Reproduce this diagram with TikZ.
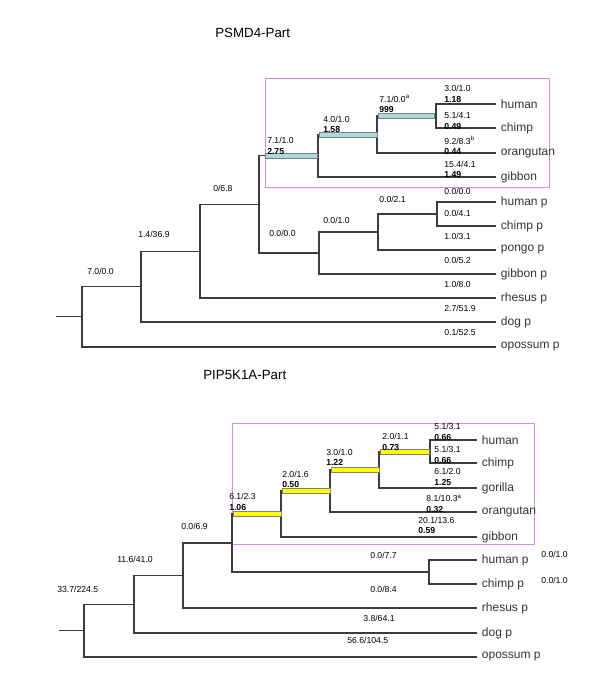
\documentclass[tikz,border=0pt]{standalone}
\usepackage{fontspec}
\setmainfont{Liberation Sans}
\usepackage{tikz}
\usetikzlibrary{calc}
\definecolor{boxpink}{RGB}{221,140,221}
\definecolor{barteal}{RGB}{172,218,218}
\definecolor{baryellow}{RGB}{255,255,0}
\definecolor{treegray}{RGB}{60,60,60}

\begin{document}
\begin{tikzpicture}[x=0.75pt, y=-0.75pt,
        branch/.style={draw=treegray, line width=0.9pt},
        leaf/.style={anchor=west, inner xsep=3.5pt, inner ysep=0pt, text=black!80, font=\fontsize{9}{10}\selectfont},
        lab/.style={anchor=west, inner sep=0pt, align=left, font=\fontsize{6.5}{7.9}\selectfont},
        title/.style={anchor=west, inner sep=0pt, font=\fontsize{10}{12}\selectfont},
        groupbox/.style={draw=boxpink, line width=0.6pt},
        tealbar/.style={draw=gray, line width=0.4pt, fill=barteal},
        yellowbar/.style={draw=gray, line width=0.4pt, fill=baryellow}
    ]
    \useasboundingbox (0,0) rectangle (600,685);

    % PSMD4
    \node[title] (t1) at (215,33) {PSMD4-Part};
    \draw[groupbox] (265,78) rectangle (549,187);

    \node[leaf] (h1)  at (496,104) {human};
    \node[leaf] (c1)  at (496,128) {chimp};
    \node[leaf] (o1)  at (496,153) {orangutan};
    \node[leaf] (g1)  at (496,177) {gibbon};
    \node[leaf] (hp1) at (496,202) {human p};
    \node[leaf] (cp1) at (496,226) {chimp p};
    \node[leaf] (pp1) at (496,250) {pongo p};
    \node[leaf] (gp1) at (496,274) {gibbon p};
    \node[leaf] (rp1) at (496,298) {rhesus p};
    \node[leaf] (dp1) at (496,322) {dog p};
    \node[leaf] (op1) at (496,347) {opossum p};

    \coordinate (n1) at (436,116);
    \coordinate (n2) at (377,134.5);
    \coordinate (n3) at (318,155.75);
    \coordinate (p1) at (437,214);
    \coordinate (p2) at (378,232);
    \coordinate (p3) at (319,253);
    \coordinate (nC) at (259,204.4);
    \coordinate (nB) at (200,251.2);
    \coordinate (nA) at (141,286.6);
    \coordinate (r1) at (82,316.8);
    \coordinate (s1) at (56,316.8);

    \draw[branch] (h1.west) -| (n1) |- (c1.west);
    \draw[branch] (n1) -| (n2) |- (o1.west);
    \draw[branch] (n2) -| (n3) |- (g1.west);
    \draw[branch] (hp1.west) -| (p1) |- (cp1.west);
    \draw[branch] (p1) -| (p2) |- (pp1.west);
    \draw[branch] (p2) -| (p3) |- (gp1.west);
    \draw[branch] (n3) -| (nC) |- (p3);
    \draw[branch] (nC) -| (nB) |- (rp1.west);
    \draw[branch] (nB) -| (nA) |- (dp1.west);
    \draw[branch] (nA) -| (r1) |- (op1.west);
    \draw[branch] (s1) -- (r1);

    \draw[tealbar] ($(n2 |- n1)+(1,-2.5)$) rectangle ($(n1)+(-2,2.5)$);
    \draw[tealbar] ($(n3 |- n2)+(1,-2.5)$) rectangle ($(n2)+(0,2.5)$);
    \draw[tealbar] ($(nC |- n3)+(6,-2.5)$) rectangle ($(n3)+(-1,2.5)$);

    \node[lab] (l1)  at (444,93.7)  {3.0/1.0\\\textbf{1.18}};
    \node[lab] (l2)  at (444,120.9) {5.1/4.1\\\textbf{0.49}};
    \node[lab] (l3)  at (444,145.5) {9.2/8.3\textsuperscript{b}\\\textbf{0.44}};
    \node[lab] (l4)  at (444,169.5) {15.4/4.1\\\textbf{1.49}};
    \node[lab] (l5)  at (379,104)   {7.1/0.0\textsuperscript{a}\\\textbf{999}};
    \node[lab] (l6)  at (323,124.3) {4.0/1.0\\\textbf{1.58}};
    \node[lab] (l7)  at (267,146)   {7.1/1.0\\\textbf{2.75}};
    \node[lab] (l8)  at (444,191) {0.0/0.0};
    \node[lab] (l9)  at (444,213) {0.0/4.1};
    \node[lab] (l10) at (444,236) {1.0/3.1};
    \node[lab] (l11) at (444,260) {0.0/5.2};
    \node[lab] (l12) at (444,284) {1.0/8.0};
    \node[lab] (l13) at (444,308) {2.7/51.9};
    \node[lab] (l14) at (444,332) {0.1/52.5};
    \node[lab] (l15) at (379,199) {0.0/2.1};
    \node[lab] (l16) at (323,220) {0.0/1.0};
    \node[lab] (l17) at (269,233) {0.0/0.0};
    \node[lab] (l18) at (213,188) {0/6.8};
    \node[lab] (l19) at (138,234) {1.4/36.9};
    \node[lab] (l20) at (87,271)  {7.0/0.0};

    % PIP5K1A
    \node[title] (t2) at (203,375) {PIP5K1A-Part};
    \draw[groupbox] (232,423) rectangle (534,544);

    \node[leaf] (h2)  at (477,440) {human};
    \node[leaf] (c2)  at (477,463) {chimp};
    \node[leaf] (go2) at (477,488) {gorilla};
    \node[leaf] (o2)  at (477,512) {orangutan};
    \node[leaf] (g2)  at (477,537) {gibbon};
    \node[leaf] (hp2) at (477,560) {human p};
    \node[leaf] (cp2) at (477,584) {chimp p};
    \node[leaf] (rp2) at (477,608) {rhesus p};
    \node[leaf] (dp2) at (477,633) {dog p};
    \node[leaf] (op2) at (477,657) {opossum p};

    \coordinate (mG) at (430,451.5);
    \coordinate (mF) at (379,469.75);
    \coordinate (mE) at (330,490.9);
    \coordinate (mD) at (281,513.9);
    \coordinate (mH) at (429,572);
    \coordinate (mC) at (232,543);
    \coordinate (mB) at (183,575.5);
    \coordinate (mA) at (134,604.25);
    \coordinate (r2) at (84,630.6);
    \coordinate (s2) at (59,630.6);

    \draw[branch] (h2.west) -| (mG) |- (c2.west);
    \draw[branch] (mG) -| (mF) |- (go2.west);
    \draw[branch] (mF) -| (mE) |- (o2.west);
    \draw[branch] (mE) -| (mD) |- (g2.west);
    \draw[branch] (hp2.west) -| (mH) |- (cp2.west);
    \draw[branch] (mD) -| (mC) |- (mH);
    \draw[branch] (mC) -| (mB) |- (rp2.west);
    \draw[branch] (mB) -| (mA) |- (dp2.west);
    \draw[branch] (mA) -| (r2) |- (op2.west);
    \draw[branch] (s2) -- (r2);

    \draw[yellowbar] ($(mF |- mG)+(1,-2.5)$) rectangle ($(mG)+(-1,2.5)$);
    \draw[yellowbar] ($(mE |- mF)+(1,-2.5)$) rectangle ($(mF)+(0,2.5)$);
    \draw[yellowbar] ($(mD |- mE)+(1,-2.5)$) rectangle ($(mE)+(0,2.5)$);
    \draw[yellowbar] ($(mC |- mD)+(1,-2.5)$) rectangle ($(mD)+(0,2.5)$);

    \node[lab] (k1)  at (434,432)   {5.1/3.1\\\textbf{0.66}};
    \node[lab] (k2)  at (434,455)   {5.1/3.1\\\textbf{0.66}};
    \node[lab] (k3)  at (434,477)   {6.1/2.0\\\textbf{1.25}};
    \node[lab] (k4)  at (426,503.5) {8.1/10.3\textsuperscript{a}\\\textbf{0.32}};
    \node[lab] (k5)  at (418,525.5) {20.1/13.6\\\textbf{0.59}};
    \node[lab] (k6)  at (382,442)   {2.0/1.1\\\textbf{0.73}};
    \node[lab] (k7)  at (326,457.5) {3.0/1.0\\\textbf{1.22}};
    \node[lab] (k8)  at (282,479.5) {2.0/1.6\\\textbf{0.50}};
    \node[lab] (k9)  at (229,502)   {6.1/2.3\\\textbf{1.06}};
    \node[lab] (k10) at (370,555) {0.0/7.7};
    \node[lab] (k11) at (370,589) {0.0/8.4};
    \node[lab] (k12) at (363,618) {3.8/64.1};
    \node[lab] (k13) at (347,640) {56.6/104.5};
    \node[lab] (k14) at (541,554) {0.0/1.0};
    \node[lab] (k15) at (541,580) {0.0/1.0};
    \node[lab] (k16) at (181,526) {0.0/6.9};
    \node[lab] (k17) at (117,559) {11.6/41.0};
    \node[lab] (k18) at (57,589)  {33.7/224.5};

\end{tikzpicture}
\end{document}
